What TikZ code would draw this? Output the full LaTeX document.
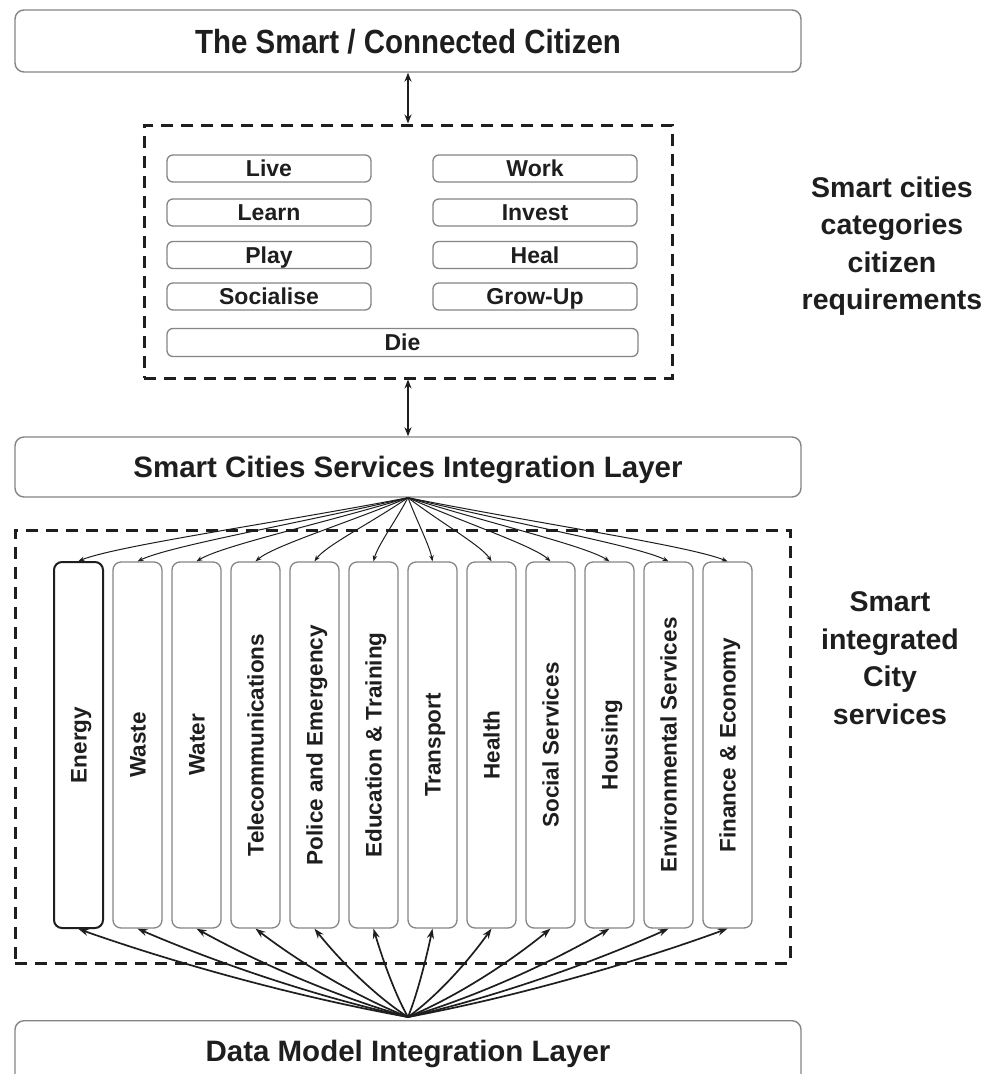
\documentclass[tikz,border=0pt]{standalone}
\usepackage{fontspec}
\setmainfont{Liberation Sans}
\newfontfamily\narrowsans[FakeStretch=0.88]{Liberation Sans}
\usetikzlibrary{calc,arrows.meta}

\definecolor{ink}{HTML}{1E1E1E}
\definecolor{edge}{HTML}{858585}

\newcommand\fntTitle{\narrowsans\bfseries\fontsize{33.5}{40}\selectfont}
\newcommand\fntLayer{\bfseries\fontsize{29.5}{35}\selectfont}
\newcommand\fntReq{\bfseries\fontsize{23}{27}\selectfont}
\newcommand\fntSvc{\bfseries\fontsize{22.5}{27}\selectfont}
\newcommand\fntSide{\bfseries\fontsize{28.5}{37.5}\selectfont}

\begin{document}
\begin{tikzpicture}[x=1pt,y=-1pt,
  every node/.style={text=ink, inner sep=0pt},
  capcentre/.style={text height=#1, text depth=0pt},
  layer/.style={draw=edge, line width=1.4pt, rounded corners=9pt, fill=white,
                minimum width=786pt, minimum height=61pt, font=\fntLayer,
                capcentre=21.1pt},
  group/.style={draw=ink, line width=3pt, dash pattern=on 12pt off 8pt},
  req/.style={draw=edge, line width=1.3pt, rounded corners=6pt,
              minimum width=204pt, minimum height=27pt, font=\fntReq,
              capcentre=16.5pt},
  svc/.style={draw=edge, line width=1.3pt, rounded corners=8pt,
              minimum width=49pt, minimum height=366pt},
  strong/.style={draw=ink, line width=2pt},
  svclabel/.style={rotate=90, font=\fntSvc, capcentre=16.1pt},
  side/.style={align=center, font=\fntSide},
  link/.style={{Stealth[length=9pt,width=7pt]}-{Stealth[length=9pt,width=7pt]},
               line width=1.8pt, draw=ink},
  fandown/.style={-{Stealth[length=6pt,width=4.5pt]}, line width=1pt, draw=ink},
  fanup/.style={-{Stealth[length=10pt,width=7pt]}, line width=1.7pt, draw=ink}
]
\clip (0,0) rectangle (993,1074);
\fill[white] (0,0) rectangle (993,1074);

% citizen and requirement categories
\node[layer, minimum height=62pt, font=\fntTitle, capcentre=24pt] (citizen) at (408,41) {The Smart / Connected Citizen};
\node[group, minimum width=528pt, minimum height=253pt] (reqs) at (408,251.5) {};

\node[req] (live)   at (269,168.5) {Live};
\node[req] (work)   at (535,168.5) {Work};
\node[req] (learn)  at (269,212.5) {Learn};
\node[req] (invest) at (535,212.5) {Invest};
\node[req] (play)   at (269,255)   {Play};
\node[req] (heal)   at (535,255)   {Heal};
\node[req] (social) at (269,296.5) {Socialise};
\node[req] (grow)   at (535,296.5) {Grow-Up};
\node[req, minimum width=471pt, minimum height=28pt] (die) at (402.5,342.5) {Die};

\node[side] (catlabel) at (892,246) {Smart cities\\categories\\citizen\\requirements};

% services integration layer
\node[layer, minimum height=60pt] (sil) at (408,467) {Smart Cities Services Integration Layer};

\draw[link] (citizen.south) -- (reqs.north);
\draw[link] (reqs.south) -- (sil.north);

% city services
\node[group, minimum width=775pt, minimum height=433pt] (svcs) at (402.5,746.5) {};
\node[svc, strong] (c1) at (78.5,745) {};
\foreach \i in {2,...,12}
  \node[svc] (c\i) at ({78.5+59*(\i-1)},745) {};
\foreach \lab [count=\i] in {Energy,Waste,Water,Telecommunications,Police and Emergency,
    Education \& Training,Transport,Health,Social Services,Housing,
    Environmental Services,Finance \& Economy}
  \node[svclabel] (t\i) at (c\i.center) {\lab};

\node[side] (svclabelside) at (890,658) {Smart\\integrated\\City\\services};

% data model integration layer
\node[layer, minimum height=90pt, anchor=north] (dmil) at (408,1020) {};
\node[font=\fntLayer, capcentre=21.1pt] (dmtext) at (408,1051) {Data Model Integration Layer};
\coordinate (hubB) at (408,1017);

% fan-out connectors
\foreach \i in {1,...,12} {
  \draw[fandown] (sil.south) .. controls ($(sil.south)!0.4!(c\i.north)$)
        and ($(c\i.north)!0.12!(sil.south)+(0,-8)$) .. (c\i.north);
  \draw[fanup] (hubB) .. controls ($(hubB)!0.35!(c\i.south)+(0,10)$)
        and ($(hubB)!0.72!(c\i.south)+(0,8)$) .. (c\i.south);
}
\end{tikzpicture}
\end{document}
